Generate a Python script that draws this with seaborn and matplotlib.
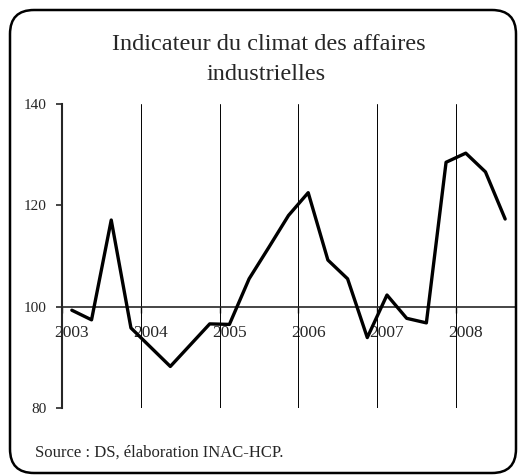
# Indicateur du climat des affaires industrielles (quarterly, 2003-2008)

import pandas as pd
import matplotlib.pyplot as plt
import seaborn as sns
from matplotlib.patches import FancyBboxPatch

# Quarterly values, 2003Q1 to 2008Q3
quarters = list(range(23))
climat = [99.3, 97.4, 117.1, 95.8, 92.0, 88.2, 92.4, 96.6, 96.5, 105.5,
          111.7, 118.0, 122.5, 109.2, 105.5, 93.9, 102.3, 97.7, 96.8,
          128.5, 130.3, 126.6, 117.3]
years = ['2003', '2004', '2005', '2006', '2007', '2008']
y_ticks = [80, 100, 120, 140]

df = pd.DataFrame({'quarter': quarters, 'climat': climat})

sns.set_style("white")
plt.rcParams['font.family'] = ['Liberation Serif', 'DejaVu Serif']

fig = plt.figure(figsize=(5.19, 4.76), dpi=100)
ax = fig.add_axes([62 / 519, 68 / 476, 453 / 519, 304 / 476])

# year boundaries as vertical lines
boundaries = [q - 0.5 for q in quarters[4::4]]
for b in boundaries:
    ax.axvline(b, color='black', lw=0.7, zorder=1)

sns.lineplot(data=df, x='quarter', y='climat', color='black', lw=2.4, ax=ax, zorder=3)

ax.set_xlim(-0.5, len(quarters) - 0.5)
ax.set_ylim(80, 140)
ax.set_yticks(y_ticks)
ax.set_yticklabels([str(t) for t in y_ticks], fontsize=11)
ax.tick_params(axis='y', direction='out', length=4, width=1.2, left=True, pad=7)

# horizontal axis crossing at 100
ax.spines['bottom'].set_position(('data', 100))
ax.spines['bottom'].set_linewidth(1.2)
ax.spines['left'].set_linewidth(1.5)
ax.spines['top'].set_visible(False)
ax.spines['right'].set_visible(False)
ax.set_xticks([-0.5] + boundaries)
ax.set_xticklabels([])
ax.tick_params(axis='x', which='major', direction='out', length=4, width=1, bottom=True)
ax.set_xticks(quarters[0::4], minor=True)
ax.set_xticklabels(years, minor=True, fontsize=12.5)
ax.tick_params(axis='x', which='minor', length=0, pad=13)
ax.set_xlabel('')
ax.set_ylabel('')
ax.grid(False)

fig.text(269 / 519, 1 - 50 / 476, 'Indicateur du climat des affaires', ha='center', va='baseline', fontsize=17.5)
fig.text(266 / 519, 1 - 80 / 476, 'industrielles', ha='center', va='baseline', fontsize=17.5)
fig.text(35 / 519, 1 - 457 / 476, 'Source : DS, élaboration INAC-HCP.', ha='left', va='baseline', fontsize=12)

frame = FancyBboxPatch((0.10, 0.03), 5.06, 4.63, boxstyle='round,pad=0,rounding_size=0.24',
                       transform=fig.dpi_scale_trans, facecolor='none', edgecolor='black', lw=1.8)
fig.patches.append(frame)

fig.savefig('out.png', dpi=100)
plt.close()
